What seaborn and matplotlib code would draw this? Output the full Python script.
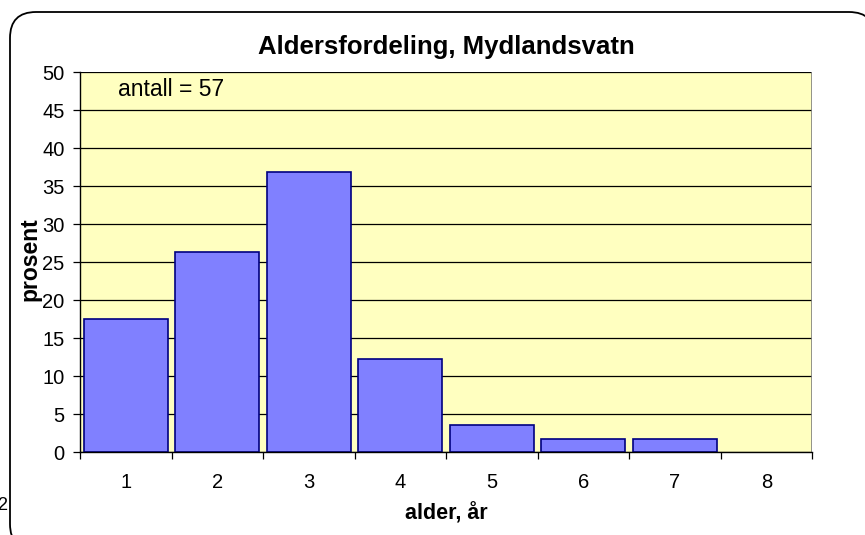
import matplotlib
matplotlib.use("Agg")
import matplotlib.pyplot as plt
import seaborn as sns
import numpy as np
from matplotlib.patches import FancyBboxPatch
from matplotlib.ticker import FixedLocator
from matplotlib.transforms import IdentityTransform

ages = ["1", "2", "3", "4", "5", "6", "7", "8"]
prosent = [17.5, 26.3, 36.8, 12.3, 3.5, 1.75, 1.75, 0.0]
yticks = [0, 5, 10, 15, 20, 25, 30, 35, 40, 45, 50]

sns.set_theme(style="white")
plt.rcParams['font.family'] = ['Liberation Sans', 'DejaVu Sans']
for k in ["text.color", "axes.labelcolor", "xtick.color", "ytick.color"]:
    plt.rcParams[k] = "black"

W, H = 865, 535
fig = plt.figure(figsize=(W / 100, H / 100), dpi=100, facecolor="white")

# rounded outer border, in display pixels (origin bottom-left); filled so it is not path-clipped
border = FancyBboxPatch((10, H - 550), 875 - 10, 550 - 12,
                        boxstyle="round,pad=0,rounding_size=26",
                        facecolor="white", edgecolor="black", linewidth=1.3,
                        transform=IdentityTransform(), zorder=-10)
fig.add_artist(border)

ax = fig.add_axes([80 / W, 1 - 452 / H, (812 - 80) / W, (452 - 72) / H])
ax.set_facecolor("#FFFFC0")
ax.set_axisbelow(True)
ax.yaxis.grid(True, color="black", linewidth=0.9)
ax.xaxis.grid(False)

sns.barplot(x=ages, y=prosent, order=ages, color="#8080FF", edgecolor="#000080",
            linewidth=1.2, width=0.92, saturation=1, ax=ax)
for p in ax.patches:
    if p.get_height() == 0:
        p.set_visible(False)

ax.set_xlim(-0.5, 7.5)
ax.set_ylim(0, 50)
ax.set_yticks(yticks)
ax.set_yticklabels([str(v) for v in yticks], fontsize=14.5)
ax.set_xticks(range(len(ages)))
ax.set_xticklabels(ages, fontsize=14.5)
ax.xaxis.set_minor_locator(FixedLocator(np.arange(-0.5, 8.0, 1.0)))
ax.tick_params(axis="x", which="major", length=0, pad=15)
ax.tick_params(axis="x", which="minor", length=5, width=0.9, color="black", direction="out", bottom=True)
ax.tick_params(axis="y", which="major", length=5, width=0.9, color="black", direction="out", left=True, pad=6)

for s in ["top", "right"]:
    ax.spines[s].set_visible(False)
ax.spines["left"].set_color("black")
ax.spines["left"].set_linewidth(1.0)
ax.spines["bottom"].set_color("black")
ax.spines["bottom"].set_linewidth(1.0)

# right edge of plot area (gray)
ax.axvline(7.5, color="#808080", linewidth=1.2)

ax.set_xlabel("alder, år", fontsize=15.5, fontweight="bold", labelpad=8)
ax.set_ylabel("")
fig.text(30 / W, 1 - 259 / H, "prosent", fontsize=16.5, fontweight="bold",
         rotation=90, ha="center", va="center")
ax.set_title("Aldersfordeling, Mydlandsvatn", fontsize=18.5, fontweight="bold", pad=13)

ax.text(0.052, 0.985, "antall = 57", transform=ax.transAxes, fontsize=16.5,
        ha="left", va="top")

fig.text(-3 / W, 1 - 505 / H, "2", fontsize=13, ha="left", va="center")

fig.savefig("out.png", dpi=100, facecolor="white")
